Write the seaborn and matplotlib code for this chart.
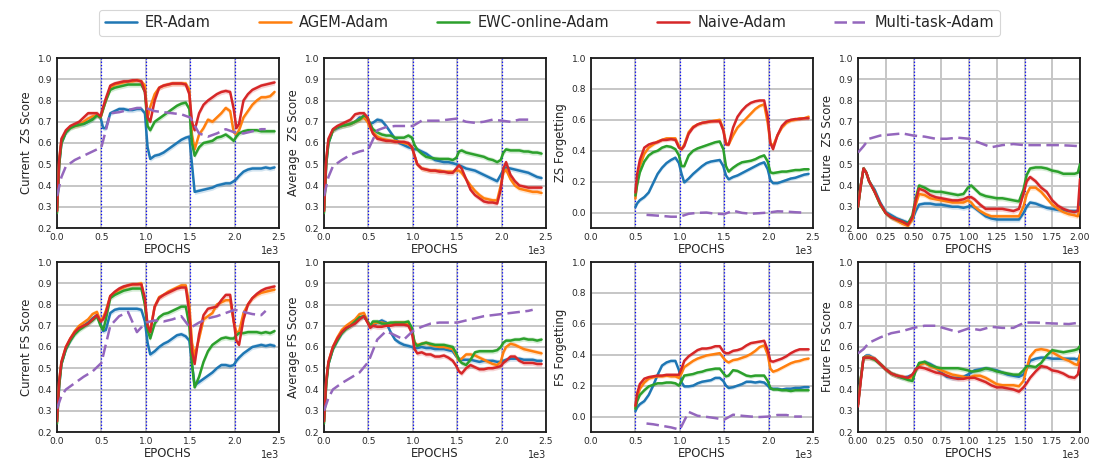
import numpy as np
import matplotlib
matplotlib.use("Agg")
import matplotlib.pyplot as plt
from matplotlib.lines import Line2D
import seaborn as sns

# ---------------- data ----------------
METHODS = ["ER-Adam", "AGEM-Adam", "EWC-online-Adam", "Naive-Adam", "Multi-task-Adam"]

# x grids (epochs)
X_MAIN = [0, 25, 50, 100, 150, 200, 250, 300, 350, 400, 450, 490, 520, 550,
          600, 650, 700, 750, 800, 850, 900, 950, 990, 1020, 1050,
          1100, 1150, 1200, 1250, 1300, 1350, 1400, 1450, 1490, 1520, 1550,
          1600, 1650, 1700, 1750, 1800, 1850, 1900, 1950, 1990, 2020, 2050,
          2100, 2150, 2200, 2250, 2300, 2350, 2400, 2450]
X_FORG = [500, 520, 550, 600, 650, 700, 750, 800, 850, 900, 950, 990, 1020, 1050,
          1100, 1150, 1200, 1250, 1300, 1350, 1400, 1450, 1490, 1520, 1550,
          1600, 1650, 1700, 1750, 1800, 1850, 1900, 1950, 1990, 2020, 2050,
          2100, 2150, 2200, 2250, 2300, 2350, 2400, 2450]
X_FUT = [0, 25, 50, 75, 100, 150, 200, 250, 300, 350, 400, 450, 490, 520, 550,
         600, 650, 700, 750, 800, 850, 900, 950, 990, 1020, 1050,
         1100, 1150, 1200, 1250, 1300, 1350, 1400, 1450, 1490, 1520, 1550,
         1600, 1650, 1700, 1750, 1800, 1850, 1900, 1950, 1980, 2000]
X_MT = [0, 50, 100, 200, 300, 400, 500, 600, 700, 800, 900, 1000, 1100, 1200,
        1300, 1400, 1500, 1600, 1700, 1800, 1900, 2000, 2100, 2200, 2300, 2350]
X_MT_FORG = [625, 700, 800, 900, 1000, 1100, 1200, 1300, 1400, 1500, 1600,
             1700, 1800, 1900, 2000, 2100, 2200, 2300, 2375]
X_MT_FUT = [0, 50, 100, 200, 300, 400, 500, 600, 700, 800, 900, 1000, 1100,
            1200, 1300, 1400, 1500, 1600, 1700, 1800, 1900, 2000]

# Current ZS Score
cur_zs_er = [0.28, 0.50, 0.60, 0.65, 0.675, 0.685, 0.69, 0.69, 0.70, 0.715, 0.73,
             0.72, 0.67, 0.67, 0.74, 0.75, 0.76, 0.76, 0.755, 0.755, 0.76, 0.76,
             0.74, 0.58, 0.525, 0.54, 0.545, 0.555, 0.57, 0.585, 0.60, 0.615, 0.625,
             0.63, 0.50, 0.37, 0.375, 0.38, 0.385, 0.39, 0.40, 0.405, 0.41, 0.41,
             0.42, 0.43, 0.445, 0.465, 0.475, 0.48, 0.48, 0.48, 0.485, 0.48, 0.485]
cur_zs_agem = [0.28, 0.52, 0.61, 0.655, 0.675, 0.68, 0.685, 0.70, 0.715, 0.725, 0.73,
               0.72, 0.76, 0.80, 0.86, 0.875, 0.88, 0.885, 0.89, 0.89, 0.895, 0.89,
               0.87, 0.72, 0.77, 0.83, 0.86, 0.87, 0.875, 0.88, 0.88, 0.88, 0.88,
               0.85, 0.64, 0.57, 0.64, 0.67, 0.71, 0.70, 0.72, 0.74, 0.765, 0.75,
               0.65, 0.64, 0.66, 0.72, 0.75, 0.78, 0.80, 0.815, 0.815, 0.82, 0.84]
cur_zs_ewc = [0.27, 0.50, 0.60, 0.65, 0.67, 0.68, 0.685, 0.69, 0.70, 0.71, 0.73,
              0.72, 0.76, 0.80, 0.85, 0.86, 0.865, 0.87, 0.875, 0.875, 0.875, 0.875,
              0.84, 0.68, 0.66, 0.70, 0.715, 0.73, 0.745, 0.76, 0.775, 0.785, 0.79,
              0.76, 0.60, 0.54, 0.58, 0.60, 0.605, 0.61, 0.625, 0.63, 0.64, 0.625,
              0.61, 0.63, 0.645, 0.655, 0.66, 0.66, 0.66, 0.655, 0.655, 0.655, 0.655]
cur_zs_naive = [0.28, 0.52, 0.62, 0.66, 0.68, 0.69, 0.70, 0.72, 0.74, 0.74, 0.74,
                0.725, 0.77, 0.81, 0.87, 0.88, 0.885, 0.89, 0.89, 0.895, 0.895, 0.89,
                0.84, 0.72, 0.70, 0.80, 0.86, 0.87, 0.875, 0.88, 0.88, 0.88, 0.875,
                0.83, 0.70, 0.66, 0.74, 0.78, 0.80, 0.815, 0.83, 0.84, 0.845, 0.84,
                0.76, 0.67, 0.69, 0.80, 0.83, 0.85, 0.86, 0.87, 0.875, 0.88, 0.885]
cur_zs_mt = [0.35, 0.44, 0.49, 0.52, 0.54, 0.56, 0.58, 0.74, 0.745, 0.755, 0.765, 0.765,
             0.75, 0.745, 0.74, 0.735, 0.72, 0.645, 0.63, 0.645, 0.665, 0.65, 0.645,
             0.655, 0.665, 0.665]

# Average ZS Score
avg_zs_er = [0.28, 0.50, 0.60, 0.66, 0.67, 0.68, 0.685, 0.69, 0.70, 0.72, 0.72,
             0.705, 0.69, 0.695, 0.71, 0.705, 0.68, 0.65, 0.62, 0.60, 0.59, 0.58,
             0.575, 0.57, 0.57, 0.56, 0.55, 0.535, 0.52, 0.515, 0.51, 0.51, 0.505,
             0.50, 0.495, 0.49, 0.48, 0.475, 0.47, 0.46, 0.45, 0.44, 0.43, 0.42,
             0.45, 0.475, 0.485, 0.48, 0.475, 0.47, 0.465, 0.46, 0.45, 0.44, 0.435]
avg_zs_agem = [0.28, 0.52, 0.61, 0.66, 0.675, 0.68, 0.685, 0.69, 0.70, 0.71, 0.72,
               0.70, 0.67, 0.65, 0.63, 0.62, 0.615, 0.61, 0.61, 0.605, 0.60, 0.595,
               0.58, 0.54, 0.50, 0.48, 0.475, 0.47, 0.47, 0.47, 0.465, 0.465, 0.465,
               0.47, 0.47, 0.46, 0.43, 0.40, 0.375, 0.355, 0.34, 0.335, 0.33, 0.33,
               0.40, 0.46, 0.475, 0.43, 0.40, 0.385, 0.38, 0.375, 0.37, 0.37, 0.365]
avg_zs_ewc = [0.27, 0.50, 0.60, 0.66, 0.675, 0.68, 0.685, 0.69, 0.70, 0.71, 0.73,
              0.72, 0.69, 0.665, 0.65, 0.64, 0.635, 0.635, 0.625, 0.625, 0.625, 0.635,
              0.625, 0.59, 0.57, 0.55, 0.535, 0.53, 0.527, 0.525, 0.525, 0.525, 0.52,
              0.53, 0.56, 0.565, 0.555, 0.55, 0.545, 0.54, 0.535, 0.525, 0.52, 0.51,
              0.52, 0.555, 0.57, 0.565, 0.565, 0.565, 0.56, 0.56, 0.555, 0.555, 0.55]
avg_zs_naive = [0.28, 0.52, 0.62, 0.665, 0.68, 0.69, 0.70, 0.71, 0.735, 0.74, 0.74,
                0.72, 0.68, 0.645, 0.62, 0.615, 0.61, 0.61, 0.605, 0.605, 0.605, 0.60,
                0.58, 0.54, 0.50, 0.48, 0.475, 0.47, 0.47, 0.465, 0.465, 0.46, 0.46,
                0.48, 0.495, 0.48, 0.43, 0.38, 0.355, 0.34, 0.325, 0.32, 0.32, 0.315,
                0.38, 0.48, 0.51, 0.45, 0.42, 0.40, 0.395, 0.39, 0.39, 0.39, 0.39]
avg_zs_mt = [0.35, 0.44, 0.49, 0.52, 0.545, 0.56, 0.57, 0.66, 0.675, 0.68, 0.68, 0.68,
             0.705, 0.705, 0.705, 0.71, 0.715, 0.70, 0.695, 0.70, 0.71, 0.705, 0.70,
             0.71, 0.71, 0.71]

# ZS Forgetting
zs_forg_er = [0.035, 0.06, 0.08, 0.10, 0.13, 0.19, 0.25, 0.29, 0.32, 0.34, 0.355,
              0.32, 0.25, 0.195, 0.22, 0.25, 0.275, 0.30, 0.32, 0.33, 0.335, 0.34,
              0.30, 0.24, 0.215, 0.23, 0.24, 0.255, 0.27, 0.285, 0.30, 0.315, 0.325,
              0.28, 0.21, 0.19, 0.19, 0.20, 0.21, 0.22, 0.225, 0.235, 0.245, 0.25]
zs_forg_agem = [0.09, 0.20, 0.30, 0.38, 0.42, 0.44, 0.46, 0.47, 0.48, 0.48, 0.48,
                0.43, 0.41, 0.44, 0.52, 0.555, 0.57, 0.58, 0.585, 0.59, 0.595, 0.60,
                0.54, 0.45, 0.44, 0.50, 0.55, 0.58, 0.61, 0.64, 0.67, 0.69, 0.70,
                0.58, 0.45, 0.43, 0.50, 0.55, 0.58, 0.595, 0.60, 0.61, 0.61, 0.62]
zs_forg_ewc = [0.11, 0.18, 0.26, 0.33, 0.37, 0.39, 0.40, 0.42, 0.43, 0.425, 0.41,
               0.37, 0.30, 0.30, 0.37, 0.40, 0.415, 0.425, 0.435, 0.445, 0.455, 0.46,
               0.41, 0.30, 0.265, 0.29, 0.31, 0.325, 0.33, 0.335, 0.345, 0.36, 0.37,
               0.33, 0.26, 0.255, 0.26, 0.265, 0.265, 0.27, 0.275, 0.275, 0.28, 0.28]
zs_forg_naive = [0.13, 0.25, 0.34, 0.42, 0.44, 0.45, 0.455, 0.47, 0.47, 0.475, 0.47,
                 0.42, 0.41, 0.43, 0.51, 0.55, 0.57, 0.58, 0.585, 0.59, 0.59, 0.59,
                 0.53, 0.44, 0.44, 0.55, 0.62, 0.66, 0.69, 0.71, 0.72, 0.725, 0.725,
                 0.62, 0.45, 0.41, 0.50, 0.56, 0.59, 0.60, 0.605, 0.605, 0.61, 0.61]
zs_forg_mt = [-0.015, -0.018, -0.022, -0.027, -0.027, -0.008, -0.002, 0.0, -0.008,
              -0.01, 0.012, -0.002, -0.008, -0.004, 0.0, 0.008, 0.006, 0.002, 0.0]

# Future ZS Score
fut_zs_er = [0.30, 0.40, 0.48, 0.46, 0.42, 0.38, 0.32, 0.275, 0.26, 0.245, 0.235, 0.225,
             0.24, 0.28, 0.31, 0.315, 0.315, 0.31, 0.31, 0.305, 0.30, 0.30, 0.295,
             0.30, 0.305, 0.295, 0.275, 0.255, 0.245, 0.24, 0.24, 0.24, 0.24, 0.24,
             0.27, 0.30, 0.32, 0.315, 0.305, 0.295, 0.29, 0.285, 0.285, 0.28, 0.28,
             0.28, 0.33]
fut_zs_agem = [0.30, 0.40, 0.48, 0.46, 0.42, 0.37, 0.31, 0.27, 0.25, 0.235, 0.22, 0.21,
               0.24, 0.31, 0.36, 0.355, 0.34, 0.335, 0.33, 0.325, 0.32, 0.32, 0.32,
               0.33, 0.32, 0.30, 0.28, 0.265, 0.255, 0.255, 0.255, 0.255, 0.255, 0.255,
               0.30, 0.36, 0.39, 0.39, 0.37, 0.34, 0.31, 0.29, 0.275, 0.265, 0.26,
               0.255, 0.30]
fut_zs_ewc = [0.30, 0.40, 0.48, 0.46, 0.42, 0.37, 0.31, 0.27, 0.25, 0.24, 0.23, 0.22,
              0.26, 0.34, 0.40, 0.39, 0.375, 0.37, 0.37, 0.365, 0.36, 0.355, 0.36,
              0.39, 0.40, 0.385, 0.36, 0.35, 0.345, 0.34, 0.34, 0.335, 0.33, 0.325,
              0.38, 0.45, 0.48, 0.485, 0.485, 0.48, 0.47, 0.465, 0.455, 0.455, 0.455,
              0.46, 0.50]
fut_zs_naive = [0.30, 0.40, 0.48, 0.46, 0.42, 0.37, 0.315, 0.27, 0.25, 0.24, 0.23, 0.215,
                0.25, 0.33, 0.385, 0.375, 0.355, 0.345, 0.34, 0.335, 0.33, 0.33, 0.335,
                0.345, 0.345, 0.335, 0.31, 0.29, 0.29, 0.29, 0.29, 0.285, 0.28, 0.29,
                0.36, 0.42, 0.44, 0.42, 0.39, 0.37, 0.33, 0.305, 0.29, 0.28, 0.275,
                0.28, 0.43]
fut_zs_mt = [0.555, 0.585, 0.62, 0.635, 0.64, 0.645, 0.635, 0.63, 0.62, 0.62, 0.625,
             0.62, 0.60, 0.58, 0.59, 0.595, 0.59, 0.59, 0.59, 0.59, 0.588, 0.585]

# Current FS Score
cur_fs_er = [0.25, 0.42, 0.52, 0.59, 0.63, 0.665, 0.69, 0.70, 0.715, 0.735, 0.75,
             0.71, 0.675, 0.68, 0.76, 0.775, 0.78, 0.78, 0.78, 0.78, 0.78, 0.775,
             0.72, 0.62, 0.565, 0.58, 0.60, 0.615, 0.625, 0.64, 0.655, 0.66, 0.65,
             0.63, 0.52, 0.42, 0.435, 0.45, 0.465, 0.48, 0.50, 0.515, 0.515, 0.51,
             0.515, 0.535, 0.55, 0.57, 0.585, 0.60, 0.605, 0.61, 0.605, 0.61, 0.605]
cur_fs_agem = [0.25, 0.44, 0.53, 0.60, 0.64, 0.675, 0.70, 0.715, 0.73, 0.755, 0.765,
               0.72, 0.74, 0.77, 0.84, 0.855, 0.87, 0.88, 0.89, 0.895, 0.895, 0.90,
               0.80, 0.70, 0.68, 0.79, 0.835, 0.845, 0.86, 0.87, 0.88, 0.89, 0.89,
               0.80, 0.62, 0.56, 0.64, 0.73, 0.745, 0.76, 0.80, 0.81, 0.82, 0.82,
               0.72, 0.67, 0.67, 0.76, 0.80, 0.83, 0.845, 0.855, 0.86, 0.865, 0.87]
cur_fs_ewc = [0.24, 0.42, 0.52, 0.59, 0.63, 0.66, 0.68, 0.695, 0.71, 0.725, 0.745,
              0.70, 0.68, 0.73, 0.83, 0.845, 0.855, 0.865, 0.87, 0.875, 0.875, 0.875,
              0.80, 0.68, 0.64, 0.71, 0.74, 0.755, 0.76, 0.77, 0.78, 0.79, 0.79,
              0.70, 0.52, 0.41, 0.46, 0.53, 0.58, 0.61, 0.625, 0.64, 0.645, 0.64,
              0.64, 0.655, 0.665, 0.665, 0.67, 0.67, 0.67, 0.665, 0.67, 0.665, 0.675]
cur_fs_naive = [0.25, 0.44, 0.53, 0.60, 0.64, 0.67, 0.69, 0.70, 0.71, 0.73, 0.75,
                0.72, 0.73, 0.76, 0.84, 0.86, 0.875, 0.885, 0.89, 0.895, 0.895, 0.895,
                0.83, 0.70, 0.67, 0.79, 0.83, 0.845, 0.855, 0.865, 0.875, 0.88, 0.88,
                0.76, 0.58, 0.52, 0.66, 0.75, 0.78, 0.785, 0.79, 0.82, 0.845, 0.845,
                0.72, 0.63, 0.61, 0.73, 0.80, 0.83, 0.85, 0.865, 0.875, 0.88, 0.885]
cur_fs_mt = [0.31, 0.37, 0.40, 0.43, 0.46, 0.485, 0.525, 0.70, 0.745, 0.765, 0.67, 0.715,
             0.725, 0.72, 0.73, 0.745, 0.69, 0.715, 0.735, 0.745, 0.76, 0.775, 0.765,
             0.755, 0.75, 0.77]

# Average FS Score
avg_fs_er = [0.25, 0.43, 0.52, 0.59, 0.63, 0.665, 0.69, 0.70, 0.715, 0.735, 0.745,
             0.72, 0.70, 0.70, 0.715, 0.725, 0.715, 0.67, 0.635, 0.62, 0.61, 0.605,
             0.60, 0.595, 0.595, 0.60, 0.595, 0.595, 0.59, 0.59, 0.59, 0.585, 0.58,
             0.555, 0.545, 0.54, 0.54, 0.54, 0.535, 0.53, 0.535, 0.535, 0.535, 0.53,
             0.53, 0.535, 0.54, 0.545, 0.545, 0.545, 0.54, 0.54, 0.54, 0.535, 0.535]
avg_fs_agem = [0.25, 0.44, 0.53, 0.60, 0.645, 0.68, 0.70, 0.715, 0.73, 0.755, 0.76,
               0.72, 0.70, 0.71, 0.715, 0.715, 0.71, 0.71, 0.715, 0.715, 0.715, 0.71,
               0.675, 0.62, 0.61, 0.615, 0.62, 0.61, 0.605, 0.60, 0.60, 0.595, 0.59,
               0.56, 0.535, 0.545, 0.565, 0.565, 0.56, 0.55, 0.54, 0.53, 0.52, 0.515,
               0.53, 0.575, 0.60, 0.615, 0.61, 0.60, 0.59, 0.585, 0.58, 0.575, 0.57]
avg_fs_ewc = [0.24, 0.42, 0.52, 0.59, 0.63, 0.665, 0.685, 0.70, 0.72, 0.74, 0.745,
              0.72, 0.70, 0.72, 0.72, 0.71, 0.71, 0.715, 0.715, 0.715, 0.715, 0.72,
              0.69, 0.62, 0.605, 0.615, 0.62, 0.615, 0.61, 0.61, 0.61, 0.605, 0.60,
              0.57, 0.54, 0.525, 0.515, 0.54, 0.575, 0.58, 0.58, 0.58, 0.58, 0.585,
              0.60, 0.62, 0.63, 0.63, 0.635, 0.635, 0.64, 0.635, 0.635, 0.63, 0.635]
avg_fs_naive = [0.25, 0.44, 0.53, 0.60, 0.64, 0.67, 0.69, 0.70, 0.71, 0.73, 0.745,
                0.715, 0.69, 0.70, 0.695, 0.695, 0.70, 0.70, 0.705, 0.705, 0.705, 0.70,
                0.665, 0.59, 0.57, 0.575, 0.565, 0.565, 0.555, 0.555, 0.56, 0.55, 0.535,
                0.51, 0.485, 0.475, 0.50, 0.515, 0.505, 0.495, 0.495, 0.50, 0.50, 0.505,
                0.51, 0.525, 0.535, 0.555, 0.555, 0.535, 0.525, 0.525, 0.525, 0.52, 0.52]
avg_fs_mt = [0.30, 0.36, 0.40, 0.43, 0.455, 0.48, 0.53, 0.635, 0.675, 0.655, 0.635, 0.675,
             0.695, 0.71, 0.715, 0.715, 0.715, 0.725, 0.735, 0.745, 0.75, 0.755, 0.76,
             0.765, 0.77, 0.775]

# FS Forgetting
fs_forg_er = [0.035, 0.06, 0.08, 0.10, 0.14, 0.20, 0.27, 0.33, 0.35, 0.36, 0.36,
              0.30, 0.22, 0.195, 0.195, 0.20, 0.215, 0.225, 0.23, 0.235, 0.25, 0.25,
              0.23, 0.20, 0.185, 0.19, 0.20, 0.21, 0.225, 0.225, 0.22, 0.225, 0.22,
              0.20, 0.18, 0.18, 0.18, 0.175, 0.18, 0.18, 0.185, 0.185, 0.19, 0.19]
fs_forg_agem = [0.06, 0.12, 0.18, 0.22, 0.245, 0.255, 0.26, 0.26, 0.265, 0.26, 0.26,
                0.25, 0.28, 0.32, 0.34, 0.36, 0.375, 0.385, 0.395, 0.40, 0.405, 0.41,
                0.38, 0.36, 0.35, 0.365, 0.37, 0.38, 0.39, 0.405, 0.425, 0.45, 0.46,
                0.40, 0.31, 0.29, 0.30, 0.315, 0.33, 0.345, 0.355, 0.36, 0.37, 0.375]
fs_forg_ewc = [0.05, 0.10, 0.14, 0.17, 0.195, 0.205, 0.215, 0.215, 0.22, 0.22, 0.215,
               0.20, 0.23, 0.265, 0.27, 0.275, 0.285, 0.29, 0.30, 0.305, 0.31, 0.31,
               0.28, 0.26, 0.265, 0.30, 0.295, 0.28, 0.265, 0.26, 0.265, 0.265, 0.265,
               0.23, 0.185, 0.175, 0.175, 0.17, 0.17, 0.165, 0.17, 0.17, 0.17, 0.17]
fs_forg_naive = [0.07, 0.15, 0.21, 0.245, 0.255, 0.26, 0.265, 0.265, 0.27, 0.27, 0.27,
                 0.27, 0.31, 0.36, 0.39, 0.41, 0.43, 0.44, 0.44, 0.445, 0.455, 0.455,
                 0.42, 0.41, 0.41, 0.425, 0.43, 0.44, 0.46, 0.475, 0.48, 0.485, 0.49,
                 0.43, 0.36, 0.355, 0.365, 0.375, 0.39, 0.41, 0.425, 0.435, 0.435, 0.435]
fs_forg_mt = [-0.045, -0.05, -0.06, -0.07, -0.085, 0.03, 0.005, -0.002, -0.01, -0.02,
              0.012, 0.005, 0.0, -0.003, 0.0, 0.01, 0.01, 0.0, 0.0]

# Future FS Score
fut_fs_er = [0.33, 0.45, 0.55, 0.56, 0.56, 0.545, 0.52, 0.495, 0.475, 0.465, 0.455, 0.46,
             0.47, 0.49, 0.515, 0.53, 0.52, 0.505, 0.48, 0.46, 0.455, 0.455, 0.46,
             0.47, 0.48, 0.49, 0.495, 0.50, 0.495, 0.49, 0.48, 0.47, 0.465, 0.46,
             0.47, 0.50, 0.535, 0.545, 0.55, 0.55, 0.545, 0.545, 0.545, 0.545, 0.545,
             0.54, 0.56]
fut_fs_agem = [0.33, 0.45, 0.55, 0.555, 0.555, 0.545, 0.52, 0.495, 0.475, 0.465, 0.46, 0.45,
               0.46, 0.49, 0.515, 0.525, 0.51, 0.50, 0.49, 0.48, 0.47, 0.465, 0.46,
               0.455, 0.46, 0.465, 0.465, 0.455, 0.44, 0.425, 0.42, 0.42, 0.42, 0.415,
               0.44, 0.50, 0.555, 0.585, 0.59, 0.585, 0.575, 0.56, 0.545, 0.535, 0.52,
               0.515, 0.565]
fut_fs_ewc = [0.33, 0.45, 0.55, 0.55, 0.55, 0.54, 0.52, 0.495, 0.475, 0.465, 0.455, 0.445,
              0.44, 0.49, 0.525, 0.53, 0.515, 0.505, 0.50, 0.50, 0.50, 0.50, 0.495,
              0.49, 0.485, 0.485, 0.49, 0.50, 0.495, 0.485, 0.48, 0.475, 0.47, 0.47,
              0.49, 0.51, 0.51, 0.505, 0.525, 0.56, 0.585, 0.58, 0.575, 0.58, 0.585,
              0.59, 0.605]
fut_fs_naive = [0.32, 0.44, 0.55, 0.55, 0.55, 0.545, 0.52, 0.495, 0.475, 0.465, 0.46, 0.455,
                0.47, 0.495, 0.505, 0.50, 0.49, 0.48, 0.475, 0.465, 0.455, 0.45, 0.45,
                0.455, 0.455, 0.455, 0.445, 0.435, 0.42, 0.41, 0.41, 0.405, 0.40, 0.39,
                0.41, 0.43, 0.455, 0.485, 0.51, 0.505, 0.49, 0.485, 0.475, 0.46, 0.455,
                0.47, 0.52]
fut_fs_mt = [0.57, 0.59, 0.62, 0.645, 0.665, 0.675, 0.69, 0.70, 0.70, 0.685, 0.67, 0.688,
             0.68, 0.695, 0.69, 0.69, 0.715, 0.715, 0.712, 0.71, 0.708, 0.715]

# ---------------- style ----------------
sns.set_theme(style="whitegrid")
plt.rcParams["font.family"] = ["DejaVu Sans"]

COLORS = ["#1f77b4", "#ff7f0e", "#2ca02c", "#d62728", "#9467bd"]
LW = 1.8
DASH = (5.0, 2.2)
BAND = 0.012
TICK_FS = 6.6
LABEL_FS = 8.4

PANELS = [
    # row 1
    dict(ylabel="Current  ZS Score", x=X_MAIN,
         ys=[cur_zs_er, cur_zs_agem, cur_zs_ewc, cur_zs_naive], mx=X_MT, my=cur_zs_mt,
         kind="score", xmax=2500),
    dict(ylabel="Average  ZS Score", x=X_MAIN,
         ys=[avg_zs_er, avg_zs_agem, avg_zs_ewc, avg_zs_naive], mx=X_MT, my=avg_zs_mt,
         kind="score", xmax=2500),
    dict(ylabel="ZS Forgetting", x=X_FORG,
         ys=[zs_forg_er, zs_forg_agem, zs_forg_ewc, zs_forg_naive], mx=X_MT_FORG, my=zs_forg_mt,
         kind="forg", xmax=2500),
    dict(ylabel="Future  ZS Score", x=X_FUT,
         ys=[fut_zs_er, fut_zs_agem, fut_zs_ewc, fut_zs_naive], mx=X_MT_FUT, my=fut_zs_mt,
         kind="score", xmax=2000),
    # row 2
    dict(ylabel="Current FS Score", x=X_MAIN,
         ys=[cur_fs_er, cur_fs_agem, cur_fs_ewc, cur_fs_naive], mx=X_MT, my=cur_fs_mt,
         kind="score", xmax=2500),
    dict(ylabel="Average FS Score", x=X_MAIN,
         ys=[avg_fs_er, avg_fs_agem, avg_fs_ewc, avg_fs_naive], mx=X_MT, my=avg_fs_mt,
         kind="score", xmax=2500),
    dict(ylabel="FS Forgetting", x=X_FORG,
         ys=[fs_forg_er, fs_forg_agem, fs_forg_ewc, fs_forg_naive], mx=X_MT_FORG, my=fs_forg_mt,
         kind="forg", xmax=2500),
    dict(ylabel="Future FS Score", x=X_FUT,
         ys=[fut_fs_er, fut_fs_agem, fut_fs_ewc, fut_fs_naive], mx=X_MT_FUT, my=fut_fs_mt,
         kind="score", xmax=2000),
]

W, H = 1099, 467
fig = plt.figure(figsize=(W / 100, H / 100), dpi=100)

col_left = [57, 324, 591, 858]
row_top = [58, 262]
ax_w, ax_h = 222, 170

for i, p in enumerate(PANELS):
    r, c = divmod(i, 4)
    ax = fig.add_axes([col_left[c] / W, 1 - (row_top[r] + ax_h) / H, ax_w / W, ax_h / H])
    ax.set_facecolor("white")
    ax.grid(True, color="#c6c6c6", linewidth=1.4)
    ax.set_axisbelow(True)
    for s in ax.spines.values():
        s.set_color("#1a1a1a")
        s.set_linewidth(1.3)

    xmax = p["xmax"]
    for b in [500, 1000, 1500, 2000]:
        if b < xmax:
            ax.axvline(b, color="blue", linestyle=":", linewidth=0.9, zorder=1.5)

    x = np.array(p["x"], dtype=float)
    for k, yv in enumerate(p["ys"]):
        y = np.array(yv, dtype=float)
        ax.fill_between(x, y - BAND, y + BAND, color=COLORS[k], alpha=0.2, linewidth=0, zorder=2)
        sns.lineplot(x=x, y=y, ax=ax, color=COLORS[k], linewidth=LW, legend=False,
                     zorder=3, estimator=None)
    sns.lineplot(x=np.array(p["mx"], dtype=float), y=np.array(p["my"], dtype=float), ax=ax,
                 color=COLORS[4], linewidth=LW, dashes=False, legend=False, zorder=3,
                 estimator=None)
    ax.lines[-1].set_dashes(DASH)

    ax.set_xlim(0, xmax)
    if xmax == 2500:
        ax.set_xticks([0, 500, 1000, 1500, 2000, 2500])
    else:
        ax.set_xticks([0, 250, 500, 750, 1000, 1250, 1500, 1750, 2000])
    if p["kind"] == "score":
        ax.set_ylim(0.2, 1.0)
        ax.set_yticks(np.arange(0.2, 1.01, 0.1))
    else:
        ax.set_ylim(-0.1, 1.0)
        ax.set_yticks(np.arange(0.0, 1.01, 0.2))
    ax.ticklabel_format(axis="x", style="sci", scilimits=(3, 3))
    ax.tick_params(axis="both", labelsize=TICK_FS, length=2, width=0.8, color="#1a1a1a")
    ax.tick_params(axis="x", pad=1.5)
    ax.tick_params(axis="y", pad=1.5)
    ax.xaxis.get_offset_text().set_fontsize(TICK_FS + 0.4)
    ax.set_xlabel("EPOCHS", fontsize=LABEL_FS, labelpad=1)
    ax.set_ylabel(p["ylabel"], fontsize=LABEL_FS, labelpad=3)

handles = [Line2D([0], [0], color=COLORS[k], linewidth=LW,
                  dashes=DASH if k == 4 else (None, None)) for k in range(5)]
leg = fig.legend(handles, METHODS, loc="upper center", bbox_to_anchor=(0.5, 0.995),
                 ncol=5, fontsize=10.5, frameon=True, fancybox=True,
                 handlelength=2.2, handletextpad=0.55, columnspacing=3.3,
                 borderpad=0.4)
leg.get_frame().set_edgecolor("#cccccc")
leg.get_frame().set_linewidth(0.8)

fig.savefig("out.png", dpi=100, facecolor="white")
